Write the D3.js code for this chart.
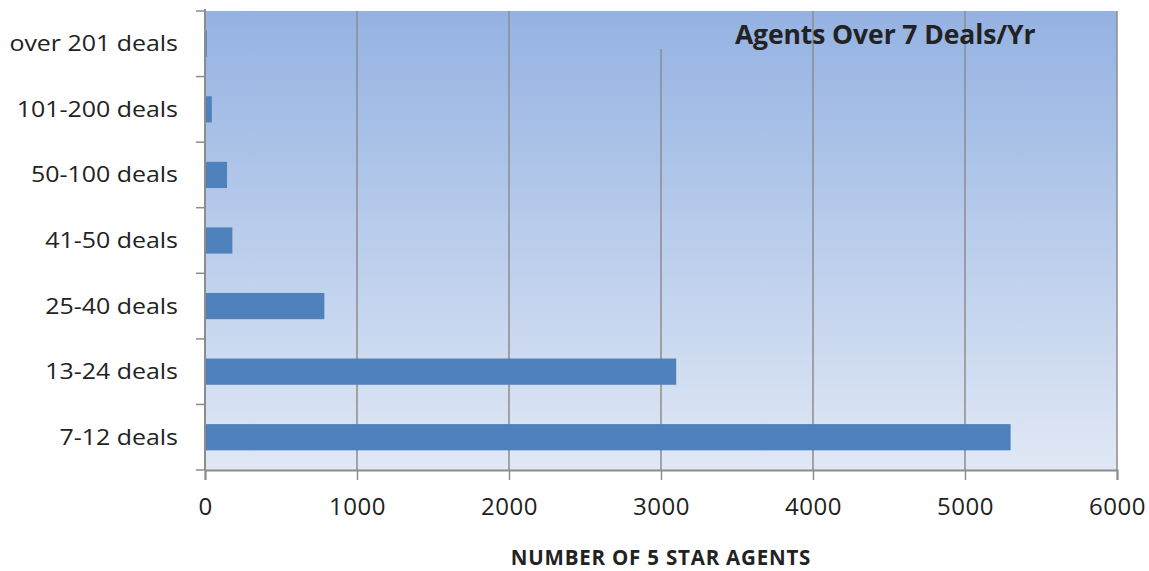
<!DOCTYPE html>
<html>
<head>
<meta charset="utf-8">
<script src="https://cdn.jsdelivr.net/npm/d3@7"></script>
<style>
  html, body { margin: 0; padding: 0; background: #fff; }
  svg { display: block; }
  text { font-family: "Open Sans", "Noto Sans", sans-serif; fill: #222; }
</style>
</head>
<body>
<svg id="chart" width="1149" height="571"></svg>
<script>
// Deal bands, bottom to top as drawn on the chart
const categories = ["7-12 deals", "13-24 deals", "25-40 deals", "41-50 deals", "50-100 deals", "101-200 deals", "over 201 deals"];
const agents = [5300, 3100, 785, 180, 145, 45, 12];
const xTicks = [0, 1000, 2000, 3000, 4000, 5000, 6000];
const chartTitle = "Agents Over 7 Deals/Yr";
const xAxisTitle = "NUMBER OF 5 STAR AGENTS";

const svg = d3.select("#chart");
const margin = { top: 11, right: 32, bottom: 101, left: 205 };
const W = 1149, H = 571;
const iw = W - margin.left - margin.right;
const ih = H - margin.top - margin.bottom;

const data = categories.map((c, i) => ({ cat: c, v: agents[i] }));

const x = d3.scaleLinear().domain([0, 6000]).range([0, iw]);
const y = d3.scaleBand().domain(categories.slice().reverse()).range([0, ih]).paddingInner(0.6).paddingOuter(0.3);

// plot-area gradient fill
const defs = svg.append("defs");
const grad = defs.append("linearGradient").attr("id", "bg").attr("x1", 0).attr("y1", 0).attr("x2", 0).attr("y2", 1);
grad.append("stop").attr("offset", "0%").attr("stop-color", "#94b2e2");
grad.append("stop").attr("offset", "100%").attr("stop-color", "#e0e8f5");

const g = svg.append("g").attr("transform", `translate(${margin.left},${margin.top})`);

g.append("rect").attr("width", iw).attr("height", ih).attr("fill", "url(#bg)");

// title sits inside the plot area, top right
const titleX = x(4475);
const titleY = 33;
const titleBottom = 38;

// vertical gridlines; the 3000 line stops under the title box
g.append("g").selectAll("line").data(xTicks.filter(d => d > 0)).join("line")
  .attr("x1", d => x(d)).attr("x2", d => x(d))
  .attr("y1", d => d === 3000 ? titleBottom : 0).attr("y2", ih)
  .attr("stroke", "#8c8c8c").attr("stroke-width", 1.5);

// bars
g.append("g").selectAll("rect").data(data).join("rect")
  .attr("x", 0).attr("y", d => y(d.cat))
  .attr("width", d => x(d.v)).attr("height", y.bandwidth())
  .attr("fill", "#4f81bd");

// x axis
const xAxis = g.append("g").attr("transform", `translate(0,${ih})`)
  .call(d3.axisBottom(x).tickValues(xTicks).tickSize(10).tickPadding(18).tickFormat(d3.format("d")));
xAxis.select(".domain").attr("stroke", "#8c8c8c").attr("stroke-width", 2);
xAxis.selectAll(".tick line").attr("stroke", "#8c8c8c").attr("stroke-width", 1.5);
xAxis.selectAll("text").attr("font-size", 24).attr("fill", "#2a2a2a")
  .attr("letter-spacing", 0.5)
  .attr("font-family", "\"Open Sans\", sans-serif");

// y axis: ticks on band boundaries
const bounds = d3.range(categories.length + 1).map(i => i * ih / categories.length);
const yAx = g.append("g");
yAx.append("line").attr("x1", 0).attr("x2", 0).attr("y1", -2).attr("y2", ih)
  .attr("stroke", "#8c8c8c").attr("stroke-width", 2);
yAx.selectAll("line.tk").data(bounds).join("line").attr("class", "tk")
  .attr("x1", -9).attr("x2", 0).attr("y1", d => d).attr("y2", d => d)
  .attr("stroke", "#8c8c8c").attr("stroke-width", 1.5);
yAx.selectAll("g.lbl").data(categories).join("g").attr("class", "lbl")
  .attr("transform", d => `translate(-27,${y(d) + y.bandwidth() / 2}) scale(1.16,1)`)
  .append("text")
  .attr("dy", "0.35em").attr("text-anchor", "end")
  .attr("font-size", 21.5).text(d => d);

// titles
g.append("text").attr("x", titleX).attr("y", titleY).attr("text-anchor", "middle")
  .attr("font-size", 26.5).attr("font-weight", "bold").attr("fill", "#1a1a2a")
  .attr("letter-spacing", -0.1).text(chartTitle);

svg.append("text").attr("x", margin.left + x(3000)).attr("y", 565)
  .attr("text-anchor", "middle").attr("font-size", 20.5).attr("font-weight", "bold")
  .attr("letter-spacing", 0.8)
  .text(xAxisTitle);
</script>
</body>
</html>
